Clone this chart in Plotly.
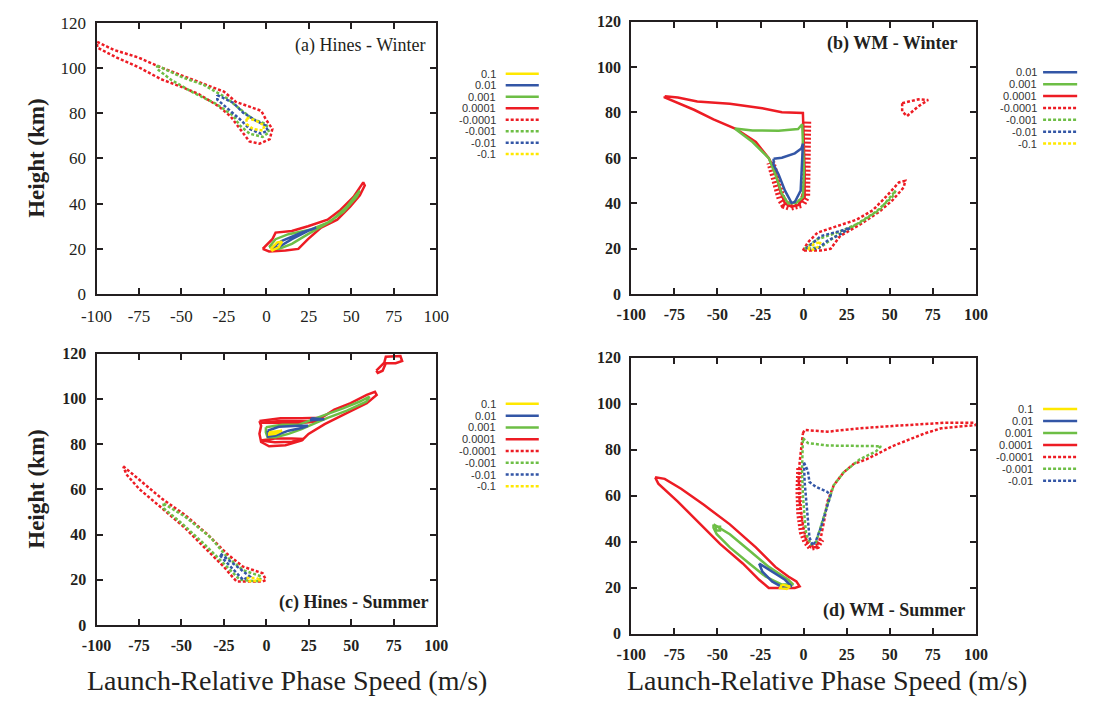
import plotly.graph_objects as go

W, H = 1096, 711

# ---------------- data ----------------
X_TICKS = [-100, -75, -50, -25, 0, 25, 50, 75, 100]
Y_TICKS = [0, 20, 40, 60, 80, 100, 120]

LEVELS = ["0.1", "0.01", "0.001", "0.0001", "-0.0001", "-0.001", "-0.01", "-0.1"]
LEVEL_COLORS = ["#FFE800", "#3356A6", "#6DBE45", "#ED1C24",
                "#ED1C24", "#6DBE45", "#3356A6", "#FFE800"]

PANEL_LABELS = ["(a) Hines - Winter", "(b) WM - Winter", "(c) Hines - Summer", "(d) WM - Summer"]
LEGEND_LEVELS_A = LEVELS
LEGEND_LEVELS_B = LEVELS[1:]
LEGEND_LEVELS_C = LEVELS
LEGEND_LEVELS_D = LEVELS[:7]

# Panel (a) Hines - Winter
a_n4 = [(-99.6,111.5),(-90,108),(-75,104.5),(-63,100.5),(-50,96.7),(-35,92.5),(-25,89.5),(-18,85),(-10,83),(-3,81),(-0.5,77.5),(3.5,73),(2,68.5),(-4,66.5),(-10,67.5),(-14.5,72),(-21,78.5),(-28,83),(-40,88.5),(-50,91.6),(-62,95),(-75,100.2),(-88,104.5),(-99.6,109),(-99.6,111.5)]
a_n3 = [(-64.3,101),(-50,96),(-36.6,92.4),(-23.2,86.6),(-17.5,83),(-7.9,77.3),(-0.3,75.2),(1.6,71.6),(-2.2,69.5),(-9.8,70.9),(-15.6,74.5),(-19.4,78.8),(-28.9,83.8),(-42.3,88.8),(-55.7,94.5),(-64.3,99.5),(-64.3,101)]
a_n2 = [(-28.9,88),(-19.4,84.5),(-13.7,80.2),(-6,76.6),(-0.3,74.5),(0.7,72.3),(-3.2,70.9),(-9.8,73),(-15.6,77.3),(-23.2,82.3),(-28.9,86),(-28.9,88)]
a_n1 = [(-11.7,78),(-6,76.6),(-1.2,74.5),(-2.2,72.3),(-7.9,73),(-11.7,75.2),(-11.7,78)]
a_p4 = [(-2.2,20),(3.5,24.3),(5.4,27.2),(15,27.9),(24.5,30),(36,32.9),(43.6,37.2),(51.3,43),(57,49.4),(57.9,48),(55,43.7),(49.3,38.7),(41.7,32.9),(32.2,29.4),(24.5,24.3),(18.8,20),(11.2,19.3),(1.6,18.9),(-2.2,20)]
a_p3 = [(1.6,20.8),(5.4,24.3),(13,26.5),(26.4,28.6),(37.8,32.2),(47.4,38.7),(55,45.8),(53.1,43),(45.5,36.5),(36,31.5),(24.5,26.5),(15,22.2),(7.3,20),(1.6,20.8)]
a_p2 = [(3.5,20.8),(9.2,23.6),(20.6,27.2),(29.3,29.4),(24.5,28),(15,24.3),(7.3,20.8),(3.5,20.8)]
a_p1 = [(2.6,20),(6.4,22.9),(9.2,23.2),(7.3,20.8),(3.5,19.3),(2.6,20)]

# Panel (b) WM - Winter
b_p4 = [(-80.6,87.2),(-73,86.6),(-61.7,84.8),(-42.8,83.8),(-24,81.9),(-12.6,80.1),(-0.4,79.8),(0.2,68.4),(0.6,54.2),(0.6,42.8),(-3.2,39.2),(-7,38.5),(-10.8,39.9),(-13.6,45.6),(-16.4,54.2),(-20.2,59.9),(-27.7,67),(-39.1,72.7),(-52.3,77),(-63.6,81.2),(-74.9,84.8),(-80.6,86.6),(-80.6,87.2)]
b_p4_hatch = [(1.8,76),(1.8,62),(1.6,50),(1.2,43),(-1,40),(-4,39),(-8,38.7),(-11,39.5),(-13,42),(-14.5,46),(-16,51),(-17.5,55),(-19,58)]
b_p3 = [(-40,73),(-29.6,72.1),(-14.5,72),(-3.2,72.7),(-0.8,74.8),(-0.4,68.4),(0.2,54.2),(-0.4,42.8),(-4.2,40.2),(-8.9,39.9),(-12.6,44.2),(-16.4,52.7),(-20.2,59.9),(-29.6,67),(-40,73)]
b_p2 = [(-17.4,59.6),(-12.6,60.1),(-5.1,62),(-1.3,64.1),(-0.4,66.3),(-0.9,57),(-1.7,45.6),(-5.1,40.6),(-7,40.2),(-10.8,45.6),(-14.5,52.7),(-17.4,57),(-17.4,59.6)]
b_n4_top = [(57.2,84.1),(66.6,85.8),(72.3,85.5),(66.6,82.7),(60,78.4),(57.2,80.5),(57.2,84.1)]
b_n4 = [(-0.4,19.2),(2.5,22.8),(8.1,27.1),(19.4,29.9),(30.8,32.8),(40.2,37),(47.7,42.8),(55.3,49.2),(59,49.9),(58.1,47),(51.5,41.3),(43.9,36.3),(32.6,30.6),(21.3,25.7),(15.7,20),(10,19.2),(2.5,19.2),(-0.4,19.2)]
b_n3 = [(0.6,20),(8.1,24.2),(19.4,27.1),(32.6,31.4),(43.9,37),(53.4,45.6),(51.5,42.8),(42,36.3),(28.9,29.9),(17.5,24.9),(10,20.7),(0.6,20)]
b_n2 = [(1.5,20),(10,25.6),(21.3,27.8),(27,29.2),(21.3,26.4),(13.8,23.5),(8.1,20),(1.5,20)]
b_n1 = [(2.5,20),(6.2,22.1),(10,23.1),(8.1,20.7),(4.4,19.2),(2.5,20)]

# Panel (c) Hines - Summer
c_n4 = [(-84.3,70.2),(-74.8,64.4),(-61.4,55.8),(-48,48.7),(-34.7,40.1),(-23.2,31.5),(-13.7,25.8),(-2.2,22.9),(-0.3,20),(-2.2,19.3),(-9.8,19.3),(-17.5,19.3),(-19.4,20.8),(-25.1,25.8),(-36.6,34.4),(-48,43),(-61.4,51.6),(-74.8,60.1),(-82.4,66.6),(-84.3,70.2)]
c_n3 = [(-60.5,53.7),(-48,48),(-32.8,38.7),(-23.2,30.1),(-13.7,24.3),(-3.1,21.5),(-4.1,19.3),(-15.6,20),(-25.1,27.2),(-36.6,35.8),(-50,45.1),(-60.5,51.6),(-60.5,53.7)]
c_n2 = [(-27,31.5),(-19.4,27.2),(-13.7,23.6),(-9.8,21.5),(-13.7,20),(-17.5,22.9),(-23.2,27.2),(-27,30.5),(-27,31.5)]
c_n1 = [(-11.7,20.8),(-6,20.8),(-3.1,19.8),(-9.8,19.3),(-11.7,20.8)]
c_p4 = [(-4.1,90.2),(8.3,91.4),(20.7,91.4),(32.4,91.6),(40,95.2),(49.6,98.1),(59.1,101.7),(63.9,103.1),(64.9,101.7),(59.1,98.1),(49.6,94.5),(40,90.9),(34.3,88.8),(24.8,84.5),(20.9,81.6),(11.2,79.5),(1.6,79),(-3.1,80.9),(-4.1,84.5),(-3.1,88.1),(-4.1,90.2)]
c_p4_in1 = [(-3.5,81.6),(5,80.8),(15,81),(22,82.2),(15,82.4),(5,82.4),(-3.5,81.6)]
c_p4_in2 = [(-3.5,89.4),(8,89.2),(20,89.3),(30,90),(20,90.2),(8,90.2),(-3.5,89.4)]
c_p4_top = [(64.7,112.4),(67.5,114.6),(69.4,116),(70.3,118.6),(78.9,118.9),(79.9,116.7),(76.1,115.7),(70.3,115.7),(68.4,112.4),(65.6,111.4),(64.7,112.4)]
c_p3 = [(-0.3,87.4),(9.3,88.5),(18.8,88.5),(24.5,90.2),(34.1,92.8),(45.5,95.9),(55,98.8),(60.7,101),(58.9,98.8),(47.4,94.8),(36,91.6),(26.4,88.5),(20.7,86.6),(13,84.5),(5.4,83),(0.7,83),(-0.3,85.2),(-0.3,87.4)]
c_p2 = [(0.7,85.9),(7.3,87.6),(18.8,88.1),(24.5,88.1),(20.7,87.1),(13,85.9),(5.4,83.8),(1,83.3),(0.7,85.9)]
c_p2b = [(26.4,91.4),(34.1,91),(26.4,90.6),(26.4,91.4)]
c_p1 = [(1.6,85.2),(9.2,85.9),(5.4,84.5),(1.6,84.2),(1.6,85.2)]

# Panel (d) WM - Summer
d_p4 = [(-86.2,68),(-80.6,67.3),(-71.1,63),(-57.9,56),(-42.8,47.5),(-27.7,37.5),(-16.4,29),(-8.9,24.8),(-4.2,22.7),(-2.3,20.5),(-5.1,19.8),(-12.6,19.8),(-20.2,19.8),(-25.8,23.4),(-35.3,30.5),(-48.5,39),(-61.7,48.9),(-73,57.4),(-84.3,65.2),(-86.2,68)]
d_p3 = [(-52.3,47.5),(-42.8,43.2),(-31.5,36.1),(-20.2,29),(-8.9,23.4),(-6,21.3),(-12.6,21.3),(-22.1,24.8),(-31.5,30.5),(-42.8,37.5),(-50.4,43.2),(-52.3,46),(-52.3,47.5)]
d_p3b = [(-51,46.5),(-48.5,46.5),(-48.5,44.8),(-51,44.8),(-51,46.5)]
d_p2 = [(-25.8,30.5),(-18.3,26.9),(-10.8,23.4),(-7,20.5),(-12.6,20.3),(-18.3,22.7),(-23.9,26.9),(-25.8,30.5)]
d_p1 = [(-12.6,21.3),(-7.9,20.5),(-9.8,19.4),(-13.6,19.8),(-12.6,21.3)]
d_n4 = [(-0.4,87.1),(0.6,88.6),(13.8,87.8),(32.6,89.3),(51.5,90.3),(70.4,91.1),(81.7,91.7),(98.7,91.7),(100,90.7),(89.2,90),(79.8,89.3),(70.4,87.1),(61,84.3),(51.5,81.5),(44,78.6),(36.4,75.8),(28.9,73.7),(23.2,70.1),(17.5,64.5),(13.8,57.4),(11.9,48.9),(10,41.8),(7.2,37.5),(4.3,37.5),(1.5,40.4),(-0.4,47.5),(-2.3,57.4),(-2.8,67.3),(-2.3,74.4),(-1.3,82.9),(-0.4,87.1)]
d_n4_hatch = [(-2.5,72),(-3,62),(-2.5,52),(-1,44),(1,40),(4,37.3),(8,38),(10.5,41)]
d_n3 = [(-0.4,85),(2.5,82.9),(13.8,81.8),(32.6,81.5),(44.9,81.5),(42.1,79.3),(32.6,75.8),(23.2,70.1),(17.5,64.5),(13.8,56),(10,46),(7.2,39.7),(4.3,38.8),(1.5,43.2),(0.6,50.3),(-0.4,60.2),(-0.9,71.5),(-0.4,85)]
d_n2 = [(0.2,74.4),(2.5,70.8),(3.4,65.9),(7.2,63.8),(13.8,61.6),(15.7,60.2),(12.8,53.1),(10,46),(7.2,40.4),(5.3,38.3),(3.4,41.8),(2.5,48.9),(1.5,57.4),(0.6,65.9),(0.2,74.4)]

# (curve, level, panel axes suffix)
CURVES = [
    (a_n4, "-0.0001", ""), (a_n3, "-0.001", ""), (a_n2, "-0.01", ""), (a_n1, "-0.1", ""),
    (a_p4, "0.0001", ""), (a_p3, "0.001", ""), (a_p2, "0.01", ""), (a_p1, "0.1", ""),
    (b_p4, "0.0001", "2"), (b_p3, "0.001", "2"), (b_p2, "0.01", "2"),
    (b_n4_top, "-0.0001", "2"), (b_n4, "-0.0001", "2"), (b_n3, "-0.001", "2"),
    (b_n2, "-0.01", "2"), (b_n1, "-0.1", "2"),
    (c_n4, "-0.0001", "3"), (c_n3, "-0.001", "3"), (c_n2, "-0.01", "3"), (c_n1, "-0.1", "3"),
    (c_p4, "0.0001", "3"), (c_p4_in1, "0.0001", "3"), (c_p4_in2, "0.0001", "3"),
    (c_p4_top, "0.0001", "3"), (c_p3, "0.001", "3"), (c_p2, "0.01", "3"),
    (c_p2b, "0.01", "3"), (c_p1, "0.1", "3"),
    (d_p4, "0.0001", "4"), (d_p3, "0.001", "4"), (d_p3b, "0.001", "4"),
    (d_p2, "0.01", "4"), (d_p1, "0.1", "4"),
    (d_n4, "-0.0001", "4"), (d_n3, "-0.001", "4"), (d_n2, "-0.01", "4"),
]
HATCHES = [(b_p4_hatch, "0.0001", "2", 9), (d_n4_hatch, "-0.0001", "4", 6)]

# ---------------- figure ----------------
INK = "#231f20"
DOT = "3px,2px"

def style(level):
    i = LEVELS.index(level)
    return LEVEL_COLORS[i], ("solid" if not level.startswith("-") else DOT)

fig = go.Figure()
for pts, level, ax, wd in HATCHES:
    col, _ = style(level)
    fig.add_trace(go.Scatter(x=[p[0] for p in pts], y=[p[1] for p in pts],
                             mode="lines", line=dict(color=col, width=wd, dash="2px,2px"),
                             xaxis="x" + ax, yaxis="y" + ax, showlegend=False, hoverinfo="skip"))
for pts, level, ax in CURVES:
    col, dash = style(level)
    fig.add_trace(go.Scatter(x=[p[0] for p in pts], y=[p[1] for p in pts],
                             mode="lines", line=dict(color=col, width=2.5, dash=dash),
                             xaxis="x" + ax, yaxis="y" + ax, showlegend=False,
                             name=level, hoverinfo="skip"))

def px_x(v):
    return v / W

def px_y(v):
    return 1 - v / H

def axis(domain, ticks, rng, font, anchor):
    return dict(domain=domain, range=rng, tickvals=ticks, ticktext=[str(t) for t in ticks],
                showline=True, linewidth=2, linecolor=INK, mirror="allticks",
                ticks="inside", ticklen=6, tickwidth=2, tickcolor=INK,
                showgrid=False, zeroline=False, tickfont=font, fixedrange=True,
                ticklabelstandoff=5, anchor=anchor)

f_reg = dict(family="Liberation Serif", size=17, color=INK)
f_bold = dict(family="Liberation Serif", size=16, color=INK, weight="bold")

XA = [px_x(82.7), px_x(431.7)]
XB = [px_x(632), px_x(986)]
YA = [px_y(293), px_y(14)]
YB = [px_y(293), px_y(13)]
YC = [px_y(633), px_y(354)]
YD = [px_y(641.7), px_y(358.3)]

fig.update_layout(
    width=W, height=H, margin=dict(l=0, r=0, t=0, b=0),
    paper_bgcolor="white", plot_bgcolor="white", showlegend=False,
    xaxis=axis(XA, X_TICKS, [-100, 100], f_reg, "y"), yaxis=axis(YA, Y_TICKS, [0, 120], f_reg, "x"),
    xaxis2=axis(XB, X_TICKS, [-100, 100], f_bold, "y2"), yaxis2=axis(YB, Y_TICKS, [0, 120], f_bold, "x2"),
    xaxis3=axis(XA, X_TICKS, [-100, 100], f_bold, "y3"), yaxis3=axis(YC, Y_TICKS, [0, 120], f_bold, "x3"),
    xaxis4=axis(XB, X_TICKS, [-100, 100], f_bold, "y4"), yaxis4=axis(YD, Y_TICKS, [0, 120], f_bold, "x4"),
)

annotations = []
shapes = []

# panel labels
label_pos = [(422, 37.5, False), (970, 35.5, True), (425, 610, True), (977, 618, True)]
for text, (lx, ly, bold) in zip(PANEL_LABELS, label_pos):
    annotations.append(dict(text=text, x=px_x(lx), y=px_y(ly), xref="paper", yref="paper",
                            xanchor="right", yanchor="middle", showarrow=False,
                            font=dict(family="Liberation Serif", size=18, color=INK,
                                      weight="bold" if bold else "normal")))

# axis titles
for cy in [153.5, 493.5]:
    annotations.append(dict(text="Height (km)", x=px_x(21), y=px_y(cy), xref="paper", yref="paper",
                            textangle=-90, xanchor="center", yanchor="middle", showarrow=False,
                            font=dict(family="Liberation Serif", size=23, color=INK, weight="bold")))
for cx in [278, 833]:
    annotations.append(dict(text="Launch-Relative Phase Speed (m/s)", x=px_x(cx), y=px_y(690),
                            xref="paper", yref="paper", xanchor="center", yanchor="middle",
                            showarrow=False, font=dict(family="Liberation Serif", size=28, color=INK)))

# legends (text left, sample line right)
legend_specs = [
    (LEGEND_LEVELS_A, 494, 503, 537, 66.5, 11.8),
    (LEGEND_LEVELS_B, 1050, 1055, 1090, 65, 12.2),
    (LEGEND_LEVELS_C, 494, 503, 537, 405.7, 12.1),
    (LEGEND_LEVELS_D, 1046, 1055, 1090, 411, 12.3),
]
for levels, tx, l0, l1, y0, dy in legend_specs:
    for i, lev in enumerate(levels):
        yy = y0 + i * dy
        col, dash = style(lev)
        annotations.append(dict(text=lev, x=px_x(tx), y=px_y(yy), xref="paper", yref="paper",
                                xanchor="right", yanchor="middle", showarrow=False, borderpad=0,
                                font=dict(family="Liberation Sans", size=11, color="#333333")))
        shapes.append(dict(type="line", xref="paper", yref="paper",
                           x0=px_x(l0), x1=px_x(l1), y0=px_y(yy), y1=px_y(yy),
                           line=dict(color=col, width=2.5, dash=dash)))

fig.update_layout(annotations=annotations, shapes=shapes)
fig.write_html("out.html")
